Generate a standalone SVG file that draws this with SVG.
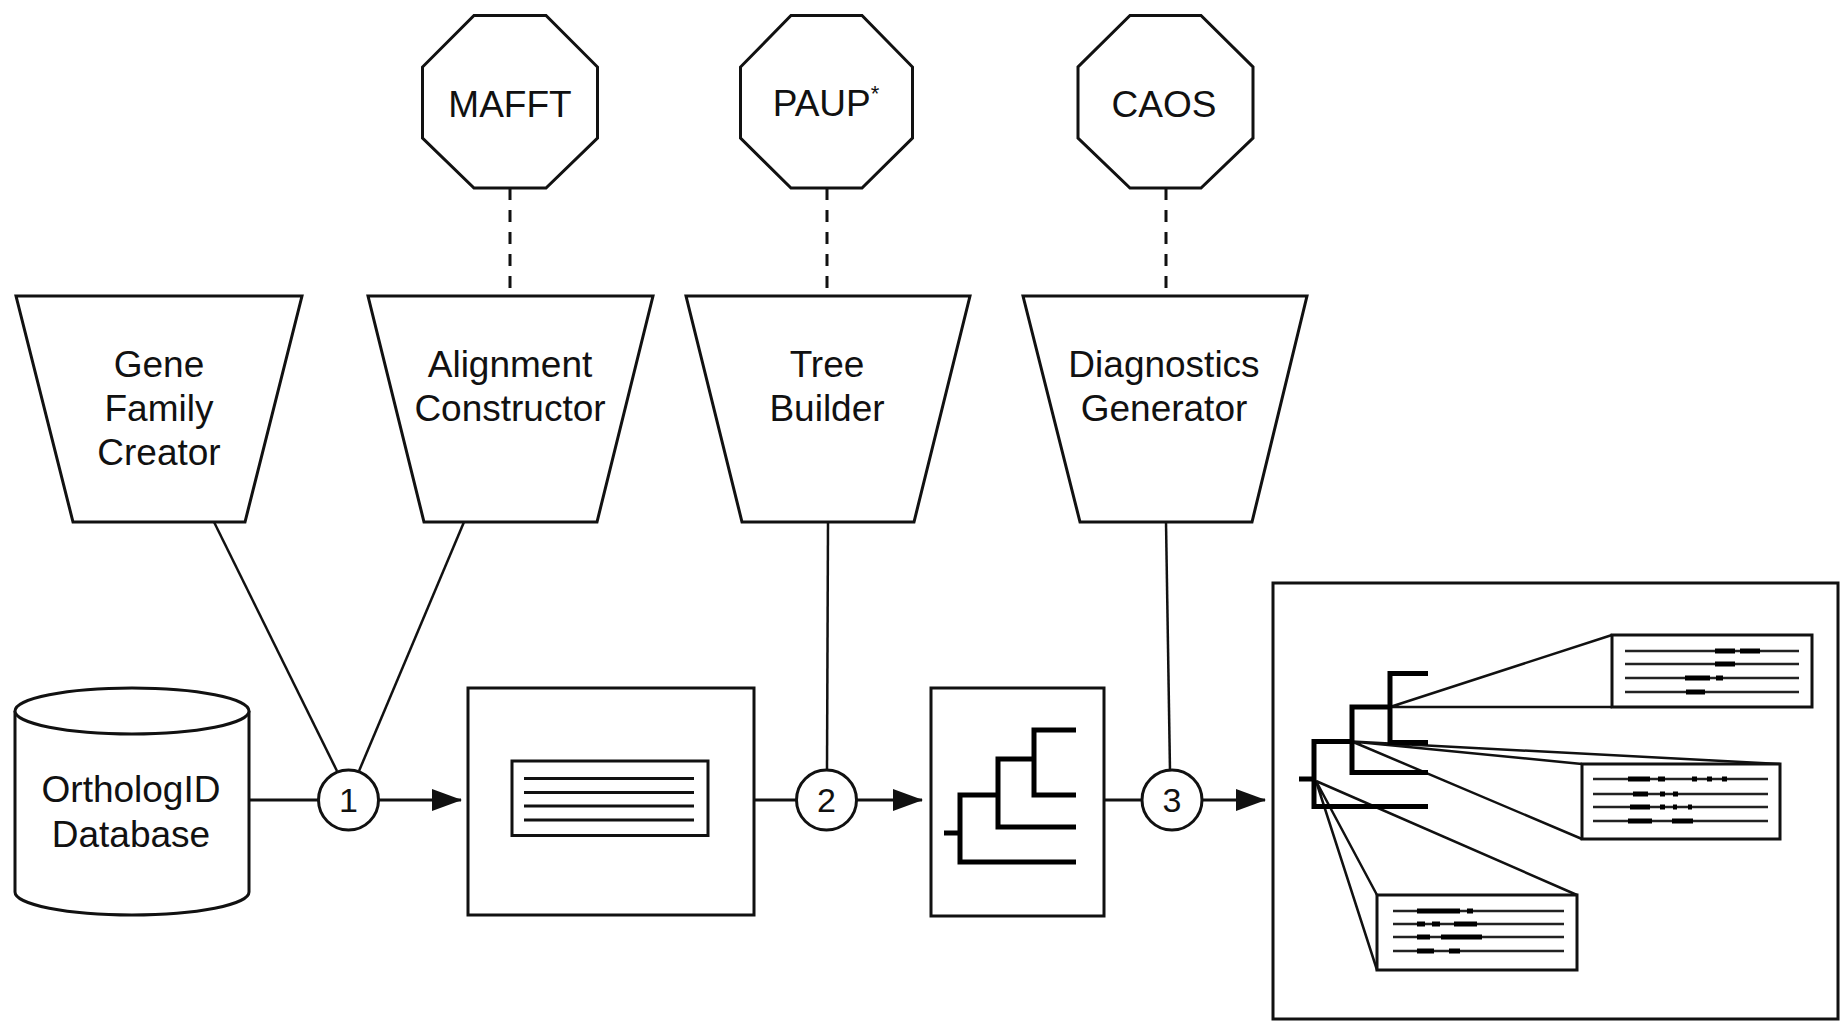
<svg xmlns="http://www.w3.org/2000/svg" width="1841" height="1021" viewBox="0 0 1841 1021">
<style>
.s{fill:#fff;stroke:#111;stroke-width:3}
.n{fill:none;stroke:#111;stroke-width:3}
.c{fill:none;stroke:#111;stroke-width:2.5}
.d{fill:none;stroke:#111;stroke-width:3;stroke-dasharray:12 10}
.t{fill:none;stroke:#000;stroke-width:5}
.al{fill:none;stroke:#222;stroke-width:2.5}
.bl{fill:none;stroke:#000;stroke-width:5}
.lb{font-family:"Liberation Sans",Arial,sans-serif;font-size:37px;fill:#111;text-anchor:middle}
.num{font-family:"Liberation Sans",Arial,sans-serif;font-size:34px;fill:#111;text-anchor:middle}
</style>
<defs>
<marker id="arr" markerUnits="userSpaceOnUse" markerWidth="30" markerHeight="24" refX="29" refY="12" orient="auto">
<path d="M0,1 L30,12 L0,23 z" fill="#111"/>
</marker>
</defs>
<rect width="1841" height="1021" fill="#fff"/>

<g id="connectors">
<line class="d" x1="510" y1="188" x2="510" y2="296"/>
<line class="d" x1="827" y1="188" x2="827" y2="296"/>
<line class="d" x1="1166" y1="188" x2="1166" y2="296"/>
<line class="c" x1="214" y1="522" x2="337" y2="771"/>
<line class="c" x1="464" y1="522" x2="359" y2="771"/>
<line class="c" x1="828" y1="522" x2="827" y2="770"/>
<line class="c" x1="1166" y1="522" x2="1170" y2="771"/>
<line class="n" x1="249" y1="800" x2="318" y2="800"/>
<line class="n" x1="379" y1="800" x2="461" y2="800" marker-end="url(#arr)"/>
<line class="n" x1="754" y1="800" x2="797" y2="800"/>
<line class="n" x1="857" y1="800" x2="922" y2="800" marker-end="url(#arr)"/>
<line class="n" x1="1104" y1="800" x2="1142" y2="800"/>
<line class="n" x1="1202" y1="800" x2="1265" y2="800" marker-end="url(#arr)"/>
</g>

<g id="node-mafft">
<polygon class="s" points="474,15.5 546,15.5 597.5,67 597.5,138 546,188 474,188 422.5,138 422.5,67"/>
<text class="lb" x="510" y="117">MAFFT</text>
</g>
<g id="node-paup">
<polygon class="s" points="791,15.5 862,15.5 912.5,67 912.5,138 862,188 791,188 740.5,138 740.5,67"/>
<text class="lb" x="826" y="116">PAUP<tspan font-size="22" dy="-15">*</tspan></text>
</g>
<g id="node-caos">
<polygon class="s" points="1130,15.5 1201,15.5 1253,67 1253,138 1201,188 1130,188 1078,138 1078,67"/>
<text class="lb" x="1164" y="117">CAOS</text>
</g>

<g id="node-gene">
<polygon class="s" points="16,296 302,296 245,522 73,522"/>
<text class="lb" x="159" y="377">Gene</text>
<text class="lb" x="159" y="421">Family</text>
<text class="lb" x="159" y="465">Creator</text>
</g>
<g id="node-align">
<polygon class="s" points="368,296 653,296 597,522 424,522"/>
<text class="lb" x="510" y="377">Alignment</text>
<text class="lb" x="510" y="421">Constructor</text>
</g>
<g id="node-tree">
<polygon class="s" points="686,296 970,296 914,522 742,522"/>
<text class="lb" x="827" y="377">Tree</text>
<text class="lb" x="827" y="421">Builder</text>
</g>
<g id="node-diag">
<polygon class="s" points="1023,296 1307,296 1252,522 1080,522"/>
<text class="lb" x="1164" y="377">Diagnostics</text>
<text class="lb" x="1164" y="421">Generator</text>
</g>

<g id="node-db">
<path class="s" d="M15,711 V892 A117,23 0 0 0 249,892 V711"/>
<ellipse class="s" cx="132" cy="711" rx="117" ry="23"/>
<text class="lb" x="131" y="802">OrthologID</text>
<text class="lb" x="131" y="847">Database</text>
</g>

<g id="node-c1">
<circle class="s" cx="348.5" cy="800" r="30"/>
<text class="num" x="348.5" y="812">1</text>
</g>
<g id="node-c2">
<circle class="s" cx="826.5" cy="800" r="30"/>
<text class="num" x="826.5" y="812">2</text>
</g>
<g id="node-c3">
<circle class="s" cx="1172" cy="800" r="30"/>
<text class="num" x="1172" y="812">3</text>
</g>

<g id="node-alignment-box">
<rect class="s" x="468" y="688" width="286" height="227"/>
<rect class="s" x="512" y="761" width="196" height="74.5"/>
<path class="n" d="M524,778.5 H694 M524,792.5 H694 M524,806 H694 M524,820 H694"/>
</g>

<g id="node-tree-box">
<rect class="s" x="931" y="688" width="173" height="228"/>
<path class="t" d="M944,833 H960 M1076,862 H960 V795 H998 M1076,827 H998 V759 H1034 M1076,730 H1034 V795 H1076"/>
</g>

<g id="node-result">
<rect class="s" x="1273" y="583" width="565" height="436"/>
<path class="c" d="M1390,707 L1612,635 M1390,707 L1612,707 M1352,741.5 L1582,764 M1352,741.5 L1780,764 M1352,741.5 L1582,839 M1316,781 L1577,895 M1316,781 L1377,895 M1316,781 L1377,970"/>
<path class="t" d="M1299,779 H1314 M1428,806.5 H1314 V741.5 H1352 M1428,772.5 H1352 V707 H1390 M1428,673.5 H1390 V742.5 H1428"/>
<rect class="s" x="1612" y="635" width="200" height="72"/>
<path class="al" d="M1625,651 H1799 M1625,664 H1799 M1625,678 H1799 M1625,692 H1799"/>
<path class="bl" d="M1715,651 H1735 M1740,651 H1760 M1715,664 H1735 M1685,678 H1710 M1716,678 H1723 M1686,692 H1705"/>
<rect class="s" x="1582" y="764" width="198" height="75"/>
<path class="al" d="M1593,779 H1768 M1593,794 H1768 M1593,807 H1768 M1593,821 H1768"/>
<path class="bl" d="M1628,779 H1650 M1658,779 H1665 M1692,779 H1697 M1707,779 H1712 M1722,779 H1727 M1633,794 H1648 M1660,794 H1665 M1673,794 H1678 M1630,807 H1650 M1660,807 H1665 M1673,807 H1677 M1688,807 H1692 M1628,821 H1652 M1672,821 H1693"/>
<rect class="s" x="1377" y="895" width="200" height="75"/>
<path class="al" d="M1393,911 H1564 M1393,924 H1564 M1393,937 H1564 M1393,951 H1564"/>
<path class="bl" d="M1417,911 H1460 M1467,911 H1473 M1417,924 H1425 M1432,924 H1440 M1454,924 H1477 M1417,937 H1430 M1441,937 H1482 M1417,951 H1434 M1449,951 H1460"/>
</g>
</svg>
